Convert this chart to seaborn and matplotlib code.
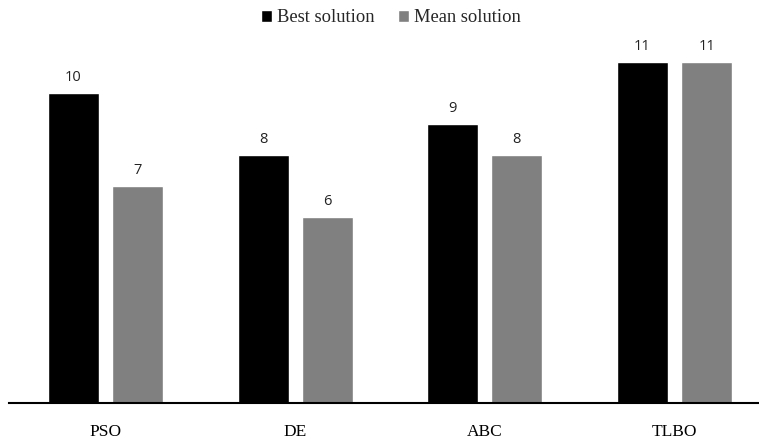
import matplotlib
matplotlib.use("Agg")
import matplotlib.pyplot as plt
import seaborn as sns
import pandas as pd

algorithms = ["PSO", "DE", "ABC", "TLBO"]
best_solution = [10, 8, 9, 11]
mean_solution = [7, 6, 8, 11]
series_names = ["Best solution", "Mean solution"]
colors = ["#000000", "#808080"]

df = pd.DataFrame({
    "algorithm": algorithms * 2,
    "value": best_solution + mean_solution,
    "series": [series_names[0]] * len(algorithms) + [series_names[1]] * len(algorithms),
})

sns.set_theme(style="white")
plt.rcParams["font.family"] = ["Liberation Serif", "DejaVu Serif"]

W, H = 759, 443
fig = plt.figure(figsize=(W / 100, H / 100), dpi=100)
ax = fig.add_axes([9 / W, (H - 403) / H, (758 - 9) / W, (403 - 31) / H])

sns.barplot(data=df, x="algorithm", y="value", hue="series", palette=colors,
            width=0.676, gap=0.204, ax=ax, saturation=1, legend=True)

for cont in ax.containers:
    ax.bar_label(cont, padding=6, fontsize=10.5, family=["Open Sans", "DejaVu Sans"], color="#222222")

ax.set_ylim(0, 12)
ax.set_xlim(-0.508, 3.44)
ax.set_xlabel("")
ax.set_ylabel("")
ax.set_yticks([])
for s in ["top", "left", "right"]:
    ax.spines[s].set_visible(False)
ax.spines["bottom"].set_color("black")
ax.spines["bottom"].set_linewidth(1.5)
ax.tick_params(axis="x", length=0, pad=15, labelsize=12.5, labelcolor="black")

handles, labels = ax.get_legend_handles_labels()
ax.get_legend().remove()
fig.legend(handles, labels, loc="center", bbox_to_anchor=(391 / W, 1 - 18 / H),
           ncol=2, frameon=False, fontsize=13.3, handlelength=0.6, handleheight=0.6,
           handletextpad=0.25, columnspacing=1.3, borderaxespad=0)

fig.savefig("out.png", dpi=100)
